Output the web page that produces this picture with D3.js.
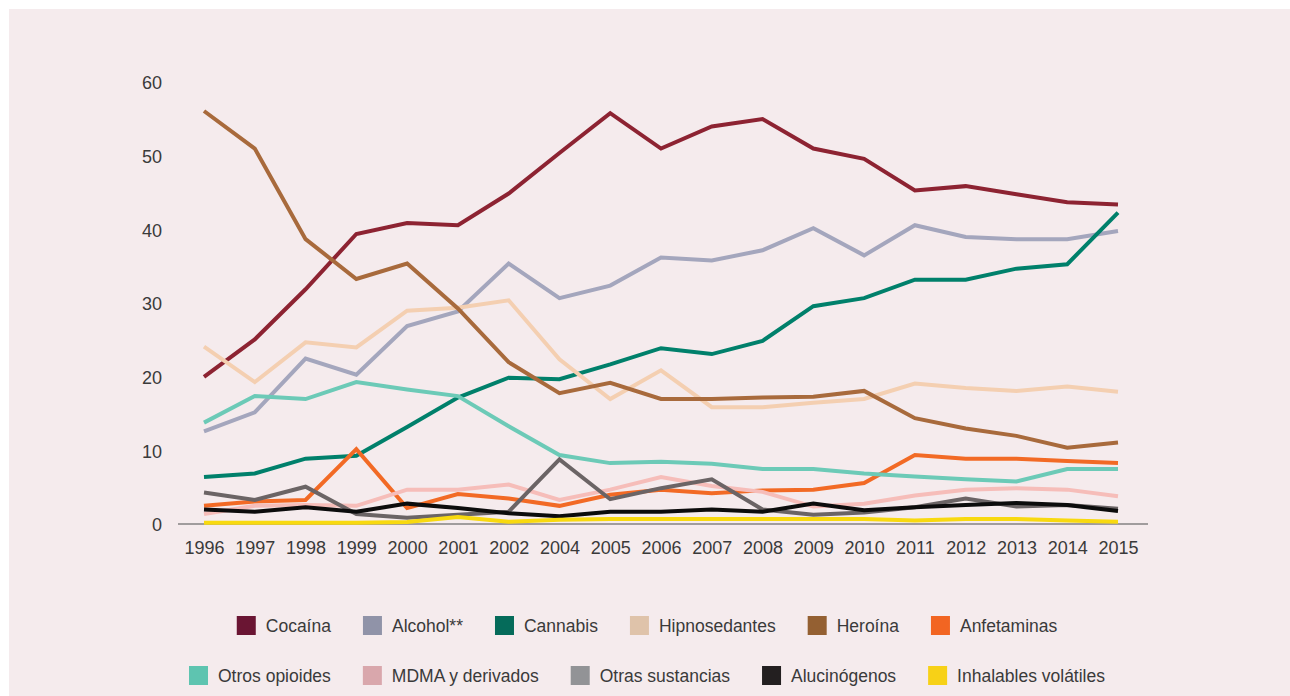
<!DOCTYPE html>
<html>
<head>
<meta charset="utf-8">
<script src="https://cdn.jsdelivr.net/npm/d3@7"></script>
<style>
  html, body { margin: 0; padding: 0; background: #ffffff; }
  svg { display: block; }
  text { font-family: "Liberation Sans", Arial, sans-serif; fill: #3a3a3a; }
</style>
</head>
<body>
<svg id="chart" width="1290" height="696"></svg>
<script>
const years = ["1996","1997","1998","1999","2000","2001","2002","2004","2005","2006","2007","2008","2009","2010","2011","2012","2013","2014","2015"];
const yTicks = [0, 10, 20, 30, 40, 50, 60];

const cocaina      = [20.1, 25.2, 32.0, 39.5, 41.0, 40.7, 45.0, 50.5, 55.9, 51.1, 54.1, 55.1, 51.1, 49.7, 45.4, 46.0, 44.9, 43.8, 43.5];
const alcohol      = [12.7, 15.3, 22.6, 20.4, 27.0, 29.0, 35.5, 30.8, 32.5, 36.3, 35.9, 37.3, 40.3, 36.6, 40.7, 39.1, 38.8, 38.8, 39.9];
const cannabis     = [6.5, 7.0, 9.0, 9.4, 13.3, 17.3, 20.0, 19.8, 21.8, 24.0, 23.2, 25.0, 29.7, 30.8, 33.3, 33.3, 34.8, 35.4, 42.4];
const hipnosed     = [24.2, 19.4, 24.8, 24.1, 29.1, 29.5, 30.5, 22.5, 17.1, 21.0, 16.0, 16.0, 16.6, 17.1, 19.2, 18.6, 18.2, 18.8, 18.1];
const heroina      = [56.2, 51.1, 38.8, 33.4, 35.5, 29.4, 22.1, 17.9, 19.3, 17.1, 17.1, 17.3, 17.4, 18.2, 14.5, 13.1, 12.1, 10.5, 11.2];
const anfetaminas  = [2.6, 3.2, 3.4, 10.3, 2.3, 4.2, 3.6, 2.6, 4.1, 4.8, 4.3, 4.7, 4.8, 5.7, 9.5, 9.0, 9.0, 8.7, 8.4];
const opioides     = [13.9, 17.5, 17.1, 19.4, 18.4, 17.5, 13.4, 9.5, 8.4, 8.6, 8.3, 7.6, 7.6, 7.0, 6.6, 6.2, 5.9, 7.6, 7.6];
const mdma         = [1.5, 2.6, 2.7, 2.6, 4.8, 4.8, 5.5, 3.4, 4.8, 6.5, 5.3, 4.5, 2.5, 2.9, 4.0, 4.8, 5.0, 4.8, 3.9];
const otras        = [4.4, 3.4, 5.2, 1.5, 1.0, 1.4, 1.8, 8.9, 3.5, 5.0, 6.2, 2.1, 1.4, 1.7, 2.4, 3.6, 2.5, 2.7, 2.2];
const alucinogenos = [2.1, 1.8, 2.4, 1.8, 2.9, 2.3, 1.6, 1.2, 1.8, 1.8, 2.1, 1.8, 2.9, 2.0, 2.4, 2.7, 3.0, 2.7, 1.9];
const inhalables   = [0.3, 0.3, 0.3, 0.3, 0.4, 1.1, 0.45, 0.7, 0.8, 0.8, 0.8, 0.8, 0.8, 0.8, 0.6, 0.8, 0.8, 0.6, 0.45];

const seriesNames  = ["Cocaína","Alcohol**","Cannabis","Hipnosedantes","Heroína","Anfetaminas","Otros opioides","MDMA y derivados","Otras sustancias","Alucinógenos","Inhalables volátiles"];
const seriesValues = [cocaina, alcohol, cannabis, hipnosed, heroina, anfetaminas, opioides, mdma, otras, alucinogenos, inhalables];
const lineColors   = ["#8d2332","#a4a6bd","#00806b","#f4cfb1","#a86a3c","#f26a25","#6ccab7","#f6bdb9","#6b6465","#0c0c0c","#f8d90f"];
const swatchColors = ["#6a1533","#9093a8","#056b5a","#dfc3aa","#946032","#f26522","#5ec4b0","#d9a7ac","#929396","#231f20","#f7d117"];
const legendRows   = [[0,1,2,3,4,5],[6,7,8,9,10]];

const svg = d3.select("#chart");

// panel background
svg.append("rect").attr("x", 9).attr("y", 9).attr("width", 1281).attr("height", 687).attr("fill", "#f5ebed");

const x = d3.scalePoint().domain(years).range([204, 1118]);
const y = d3.scaleLinear().domain([0, 60]).range([525, 83]);

// baseline axis
svg.append("line")
  .attr("x1", x(years[0]) - 26).attr("x2", x(years[years.length - 1]) + 30)
  .attr("y1", y(0) - 1).attr("y2", y(0) - 1)
  .attr("stroke", "#a09c9d").attr("stroke-width", 2);

// y axis labels
const yAxis = d3.axisLeft(y).tickValues(yTicks).tickSize(0).tickPadding(0).tickFormat(d3.format("d"));
const gy = svg.append("g").attr("transform", "translate(162,0)").call(yAxis);
gy.select(".domain").remove();
gy.selectAll("text").style("font-size", "18px").style("font-family", '"Liberation Sans", Arial, sans-serif').attr("fill", "#3a3a3a");

// x axis labels
const xAxis = d3.axisBottom(x).tickSize(0).tickPadding(0);
const gx = svg.append("g").attr("transform", "translate(0,541)").call(xAxis);
gx.select(".domain").remove();
gx.selectAll("text").style("font-size", "18px").style("font-family", '"Liberation Sans", Arial, sans-serif').attr("fill", "#3a3a3a");

// lines
const line = d3.line().x((d, i) => x(years[i])).y(d => y(d));
seriesValues.forEach((vals, k) => {
  svg.append("path")
    .datum(vals)
    .attr("d", line)
    .attr("fill", "none")
    .attr("stroke", lineColors[k])
    .attr("stroke-width", 4)
    .attr("stroke-linejoin", "miter");
});

// legend
const rowY = [626, 676];
const centerX = 647;
legendRows.forEach((row, r) => {
  const g = svg.append("g");
  let cx = 0;
  row.forEach((k, j) => {
    const item = g.append("g").attr("transform", `translate(${cx},0)`);
    item.append("rect").attr("x", 0).attr("y", rowY[r] - 10).attr("width", 19).attr("height", 19).attr("fill", swatchColors[k]);
    const t = item.append("text").attr("x", 29).attr("y", rowY[r]).attr("dy", "0.35em")
      .style("font-size", "17.5px").text(seriesNames[k]);
    const w = t.node().getComputedTextLength();
    cx += 29 + w + 32;
  });
  const total = cx - 32;
  g.attr("transform", `translate(${centerX - total / 2},0)`);
});
</script>
</body>
</html>
